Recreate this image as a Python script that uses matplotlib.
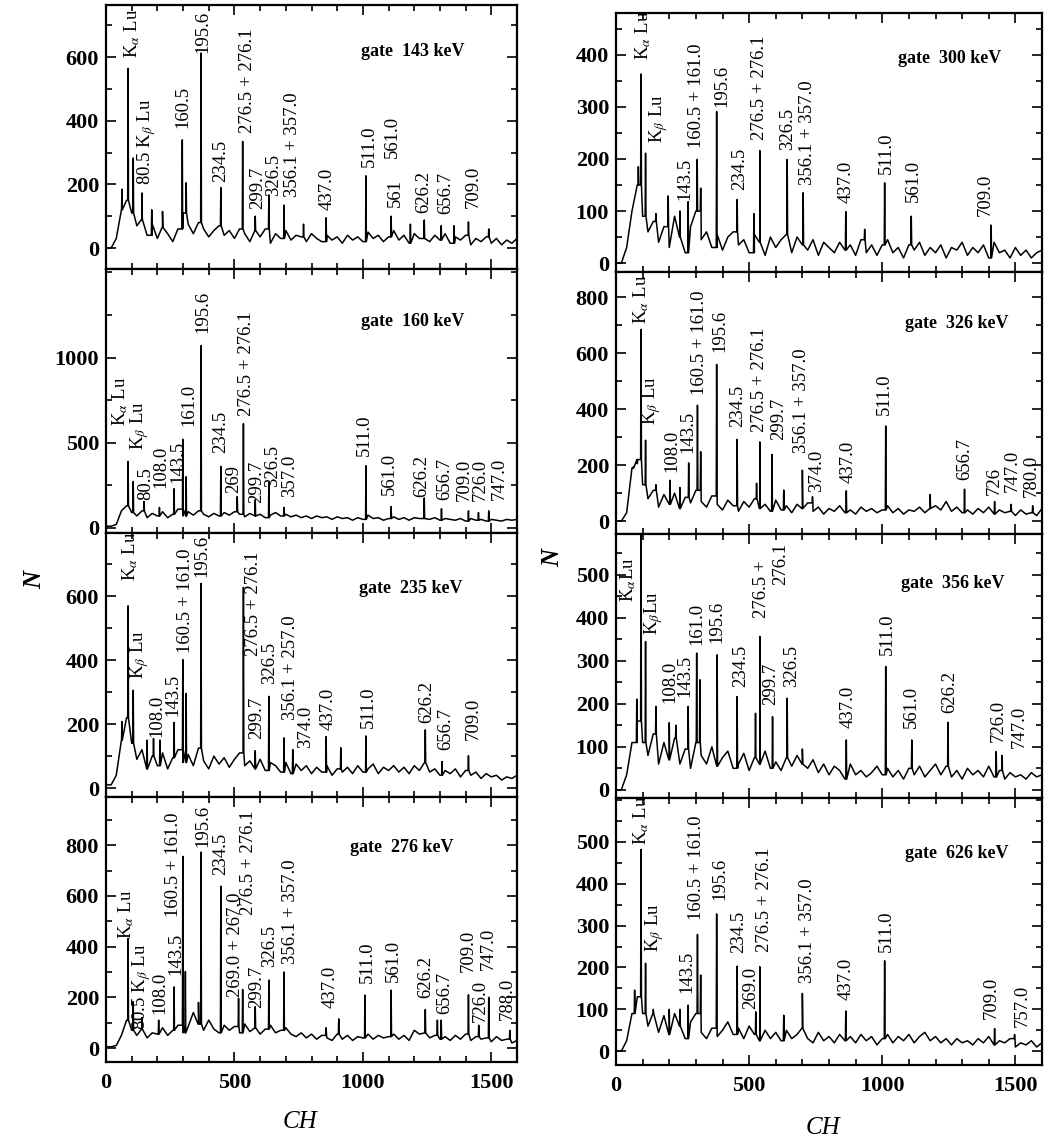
import numpy as np
import matplotlib
matplotlib.use("Agg")
import matplotlib.pyplot as plt
from matplotlib.ticker import FixedLocator, MultipleLocator

plt.rcParams["font.family"] = ["Liberation Serif", "DejaVu Serif"]
plt.rcParams["mathtext.fontset"] = "stix"

# background samples, one value every 20 channels (0 ... 1600)
BG_CH = np.arange(0, 1601, 20)

# ---------------- gate 143 keV ----------------
g143_bg = [0, 0, 30, 120, 150, 110, 70, 90, 40, 75,
           30, 65, 45, 20, 60, 110, 75, 45, 80, 60,
           35, 55, 70, 40, 55, 30, 60, 45, 20, 55,
           35, 60, 15, 45, 30, 55, 25, 40, 35, 20,
           45, 30, 20, 40, 25, 35, 15, 40, 25, 35,
           20, 50, 30, 40, 20, 35, 55, 25, 40, 15,
           45, 30, 55, 20, 40, 25, 45, 15, 35, 25,
           40, 10, 30, 20, 35, 15, 30, 10, 25, 15,
           30]
g143_peak_ch = [62, 86, 106, 140, 178, 220, 297, 312, 370, 447, 532, 581, 634, 693,
                769, 857, 1012, 1110, 1185, 1239, 1305, 1355, 1411, 1490]
g143_peak_h = [185, 565, 283, 173, 120, 115, 340, 205, 613, 190, 335, 100, 167, 135,
               75, 95, 227, 100, 75, 88, 70, 70, 82, 60]
g143_labels = [r"K$_\alpha$ Lu", r"80.5 K$_\beta$ Lu", "160.5", "195.6", "234.5",
               "276.5 + 276.1", "299.7", "326.5", "356.1 + 357.0", "437.0", "511.0",
               "561.0", "561", "626.2", "656.7", "709.0"]

# ---------------- gate 160 keV ----------------
g160_bg = [10, 10, 20, 100, 130, 90, 70, 100, 60, 85,
           70, 95, 60, 80, 110, 70, 95, 75, 100, 80,
           65, 85, 70, 90, 75, 95, 80, 65, 85, 70,
           80, 60, 75, 90, 70, 80, 65, 75, 60, 70,
           55, 70, 60, 65, 50, 65, 55, 60, 45, 60,
           50, 75, 55, 60, 45, 55, 65, 50, 60, 45,
           60, 55, 70, 50, 60, 45, 55, 50, 45, 55,
           40, 55, 45, 50, 40, 50, 45, 40, 50, 45,
           50]
g160_peak_ch = [86, 106, 148, 208, 265, 299, 312, 370, 447, 511, 535, 581, 634, 693,
                1012, 1110, 1239, 1306, 1411, 1450, 1490]
g160_peak_h = [390, 272, 155, 120, 230, 520, 300, 1070, 361, 184, 612, 165, 267, 120,
               365, 125, 176, 112, 100, 90, 100]
g160_labels = [r"K$_\alpha$ Lu", r"K$_\beta$ Lu", "80.5", "108.0", "143.5", "161.0",
               "195.6", "234.5", "269", "276.5 + 276.1", "299.7", "326.5", "357.0",
               "511.0", "561.0", "626.2", "656.7", "709.0", "726.0", "747.0"]

# ---------------- gate 235 keV ----------------
g235_bg = [10, 10, 40, 150, 220, 140, 90, 120, 60, 100,
           70, 110, 60, 95, 120, 80, 105, 70, 125, 85,
           60, 100, 75, 95, 65, 90, 110, 70, 85, 60,
           90, 55, 80, 70, 50, 80, 45, 75, 55, 70,
           45, 65, 50, 70, 40, 60, 50, 65, 45, 70,
           50, 60, 75, 45, 65, 55, 70, 50, 65, 45,
           70, 55, 80, 50, 60, 40, 55, 45, 60, 35,
           55, 40, 50, 30, 45, 35, 40, 25, 35, 30,
           40]
g235_peak_ch = [62, 86, 106, 160, 185, 210, 265, 299, 312, 370, 535, 581, 634, 693,
                727, 857, 914, 1012, 1243, 1308, 1411]
g235_peak_h = [208, 570, 306, 150, 155, 150, 205, 402, 296, 640, 628, 117, 287, 157,
               120, 161, 126, 163, 182, 83, 101]
g235_labels = [r"K$_\alpha$ Lu", r"K$_\beta$ Lu", "108.0", "143.5", "160.5 + 161.0",
               "195.6", "276.5 + 276.1", "299.7", "326.5", "356.1 + 257.0", "374.0",
               "437.0", "511.0", "626.2", "656.7", "709.0"]

# ---------------- gate 276 keV ----------------
g276_bg = [5, 5, 10, 50, 110, 70, 50, 75, 40, 60,
           55, 80, 50, 70, 90, 60, 85, 140, 95, 70,
           110, 75, 60, 90, 70, 85, 60, 95, 65, 80,
           55, 75, 90, 60, 70, 80, 55, 45, 60, 40,
           55, 35, 50, 40, 30, 55, 35, 50, 30, 45,
           40, 55, 35, 50, 40, 45, 55, 35, 50, 30,
           70, 55, 60, 40, 50, 35, 45, 30, 50, 35,
           55, 30, 45, 35, 40, 25, 45, 30, 35, 20,
           30]
g276_peak_ch = [86, 106, 140, 205, 265, 299, 309, 360, 370, 447, 516, 532, 581, 634,
                693, 857, 906, 1008, 1110, 1243, 1290, 1305, 1411, 1451, 1490, 1572]
g276_peak_h = [432, 183, 120, 110, 241, 756, 302, 180, 773, 638, 196, 231, 163, 268,
               300, 80, 115, 209, 228, 152, 110, 110, 210, 90, 200, 70]
g276_labels = [r"K$_\alpha$ Lu", r"80.5 K$_\beta$ Lu", "108.0", "143.5", "160.5 + 161.0",
               "195.6", "234.5", "269.0 + 267.0", "276.5 + 276.1", "299.7", "326.5",
               "356.1 + 357.0", "437.0", "511.0", "561.0", "626.2", "656.7", "709.0",
               "726.0", "747.0", "788.0"]

# ---------------- gate 300 keV ----------------
g300_bg = [0, 0, 30, 100, 150, 90, 60, 80, 40, 70,
           30, 90, 50, 20, 70, 100, 45, 60, 30, 55,
           25, 50, 60, 35, 45, 20, 55, 40, 15, 50,
           30, 45, 55, 20, 50, 35, 25, 45, 15, 40,
           30, 20, 40, 25, 35, 15, 45, 20, 35, 15,
           35, 45, 20, 30, 10, 35, 25, 40, 15, 30,
           20, 35, 10, 30, 25, 40, 15, 30, 20, 35,
           10, 40, 20, 25, 10, 30, 15, 25, 10, 20,
           25]
g300_peak_ch = [84, 94, 111, 150, 196, 240, 271, 305, 318, 378, 455, 518, 540, 643,
                703, 863, 934, 1009, 1109, 1409]
g300_peak_h = [185, 363, 211, 95, 129, 100, 118, 199, 144, 291, 122, 95, 216, 199,
               135, 99, 65, 154, 90, 73]
g300_labels = [r"K$_\alpha$ Lu", r"K$_\beta$ Lu", "143.5", "160.5 + 161.0", "195.6",
               "234.5", "276.5 + 276.1", "326.5", "356.1 + 357.0", "437.0", "511.0",
               "561.0", "709.0"]

# ---------------- gate 326 keV ----------------
g326_bg = [0, 0, 30, 190, 220, 130, 80, 110, 50, 95,
           60, 100, 45, 85, 65, 110, 70, 50, 90, 60,
           40, 75, 55, 35, 70, 50, 80, 45, 60, 35,
           75, 40, 55, 30, 60, 45, 65, 35, 50, 25,
           45, 35, 55, 30, 40, 25, 50, 35, 45, 30,
           40, 55, 30, 45, 25, 40, 35, 50, 30, 45,
           55, 40, 70, 35, 50, 30, 40, 25, 45, 30,
           50, 25, 40, 30, 35, 20, 40, 25, 30, 20,
           45]
g326_peak_ch = [65, 80, 94, 111, 150, 203, 240, 273, 306, 318, 378, 455, 528, 540,
                586, 630, 700, 738, 865, 1013, 1180, 1309, 1422, 1484, 1565]
g326_peak_h = [194, 205, 685, 289, 130, 146, 120, 208, 414, 248, 560, 292, 135, 283,
               238, 111, 182, 87, 108, 340, 95, 114, 70, 60, 55]
g326_labels = [r"K$_\alpha$ Lu", r"K$_\beta$ Lu", "108.0", "143.5", "160.5 + 161.0",
               "195.6", "234.5", "276.5 + 276.1", "299.7", "356.1 + 357.0", "374.0",
               "437.0", "511.0", "656.7", "726", "747.0", "780.0"]

# ---------------- gate 356 keV ----------------
g356_bg = [0, 0, 35, 110, 160, 110, 80, 130, 60, 110,
           70, 120, 60, 95, 50, 110, 80, 60, 100, 55,
           75, 90, 50, 60, 85, 45, 75, 60, 90, 50,
           65, 45, 75, 55, 80, 60, 50, 70, 40, 60,
           35, 55, 45, 25, 60, 35, 45, 30, 40, 55,
           35, 50, 30, 45, 25, 50, 35, 55, 30, 45,
           60, 35, 55, 30, 45, 25, 50, 35, 45, 30,
           55, 30, 45, 25, 40, 30, 35, 25, 40, 30,
           35]
g356_peak_ch = [78, 94, 111, 150, 200, 225, 271, 303, 315, 380, 455, 524, 540, 588,
                643, 700, 865, 1013, 1111, 1247, 1428, 1450]
g356_peak_h = [211, 700, 345, 194, 156, 150, 194, 318, 256, 314, 217, 178, 357, 170,
               213, 95, 116, 287, 116, 157, 89, 80]
g356_labels = [r"K$_\alpha$Lu", r"K$_\beta$Lu", "108.0", "143.5", "161.0", "195.6",
               "234.5", "276.5 +", "276.1", "299.7", "326.5", "437.0", "511.0",
               "561.0", "626.2", "726.0", "747.0"]

# ---------------- gate 626 keV ----------------
g626_bg = [0, 0, 25, 90, 130, 90, 60, 90, 45, 85,
           40, 90, 60, 30, 70, 90, 45, 30, 55, 35,
           50, 70, 40, 55, 30, 60, 40, 25, 50, 30,
           45, 25, 50, 30, 40, 55, 30, 20, 45, 25,
           35, 20, 40, 25, 35, 20, 40, 25, 35, 15,
           30, 40, 20, 35, 25, 40, 20, 35, 45, 25,
           35, 20, 30, 15, 30, 20, 25, 15, 30, 20,
           35, 15, 25, 20, 30, 10, 20, 15, 25, 10,
           20]
g626_peak_ch = [70, 94, 111, 140, 200, 240, 271, 306, 318, 378, 455, 525, 540, 630,
                700, 863, 1009, 1422, 1497]
g626_peak_h = [146, 482, 210, 100, 100, 100, 110, 279, 182, 328, 203, 94, 202, 86,
               138, 96, 216, 54, 40]
g626_labels = [r"K$_\alpha$ Lu", r"K$_\beta$ Lu", "143.5", "160.5 + 161.0", "195.6",
               "234.5", "269.0", "276.5 + 276.1", "356.1 + 357.0", "437.0", "511.0",
               "709.0", "757.0"]

GATES = ["gate  143 keV", "gate  160 keV", "gate  235 keV", "gate  276 keV",
         "gate  300 keV", "gate  326 keV", "gate  356 keV", "gate  626 keV"]

# ---- layout: where each rotated label sits (channel, bottom in counts) ----
g143_lab_x = [100, 159, 298, 376, 447, 552, 590, 652, 725, 862, 1025, 1113, 1126, 1237, 1321, 1429]
g143_lab_y = [597, 198, 377, 613, 208, 361, 122, 163, 160, 120, 255, 283, 130, 110, 107, 125]
g160_lab_x = [55, 132, 154, 214, 278, 321, 376, 447, 496, 548, 587, 650, 716, 1005, 1104,
              1230, 1317, 1393, 1458, 1529]
g160_lab_y = [596, 459, 165, 233, 263, 596, 1145, 439, 204, 655, 145, 243, 184, 420, 194,
              184, 165, 155, 155, 165]
g235_lab_x = [94, 132, 198, 262, 308, 373, 574, 587, 637, 717, 776, 866, 1022, 1249, 1321, 1429]
g235_lab_y = [649, 340, 161, 224, 424, 659, 413, 153, 324, 214, 125, 182, 188, 203, 120, 151]
g276_lab_x = [80, 139, 210, 273, 262, 376, 447, 503, 555, 587, 637, 717, 873, 1018, 1120,
              1243, 1317, 1412, 1458, 1490, 1561]
g276_lab_y = [432, 71, 136, 287, 517, 793, 681, 202, 524, 156, 320, 333, 156, 255, 261,
              196, 136, 300, 104, 307, 110]
g300_lab_x = [103, 159, 259, 303, 396, 463, 540, 643, 718, 865, 1015, 1118, 1388]
g300_lab_y = [390, 230, 121, 220, 300, 140, 237, 217, 150, 115, 172, 118, 90]
g326_lab_x = [96, 134, 209, 271, 315, 390, 455, 540, 609, 696, 753, 871, 1009, 1309,
              1422, 1490, 1559]
g326_lab_y = [706, 343, 176, 242, 450, 605, 337, 319, 289, 242, 105, 135, 379, 146, 93,
              105, 87]
g356_lab_x = [46, 140, 203, 259, 303, 380, 468, 546, 618, 580, 659, 871, 1021, 1109,
              1253, 1434, 1515]
g356_lab_y = [438, 360, 202, 217, 337, 341, 240, 399, 477, 198, 240, 143, 314, 143, 178,
              112, 97]
g626_lab_x = [96, 146, 265, 303, 390, 459, 505, 559, 718, 863, 1015, 1409, 1525]
g626_lab_y = [493, 238, 138, 313, 361, 234, 102, 238, 162, 122, 238, 78, 58]

panels = [
    (g143_bg, g143_peak_ch, g143_peak_h, g143_labels, g143_lab_x, g143_lab_y),
    (g160_bg, g160_peak_ch, g160_peak_h, g160_labels, g160_lab_x, g160_lab_y),
    (g235_bg, g235_peak_ch, g235_peak_h, g235_labels, g235_lab_x, g235_lab_y),
    (g276_bg, g276_peak_ch, g276_peak_h, g276_labels, g276_lab_x, g276_lab_y),
    (g300_bg, g300_peak_ch, g300_peak_h, g300_labels, g300_lab_x, g300_lab_y),
    (g326_bg, g326_peak_ch, g326_peak_h, g326_labels, g326_lab_x, g326_lab_y),
    (g356_bg, g356_peak_ch, g356_peak_h, g356_labels, g356_lab_x, g356_lab_y),
    (g626_bg, g626_peak_ch, g626_peak_h, g626_labels, g626_lab_x, g626_lab_y),
]

# axes geometry in pixels (left, right, top, bottom) and per-panel axis setup
W, H = 1057, 1142
col_x = [(106, 517), (616, 1042)]
col_rows = [[5, 269, 533, 797, 1062], [13, 272, 534, 798, 1065]]
ylims = [(-66, 764), (-30, 1520), (-28, 798), (-55, 990),
         (-17, 480), (-46, 890), (-19, 595), (-33, 605)]
yticks = [[0, 200, 400, 600], [0, 500, 1000], [0, 200, 400, 600], [0, 200, 400, 600, 800],
          [0, 100, 200, 300, 400], [0, 200, 400, 600, 800], [0, 100, 200, 300, 400, 500],
          [0, 100, 200, 300, 400, 500]]
yminor = [100, 250, 100, 100, 50, 100, 50, 50]
gate_pos = [(0.747, 0.822), (0.747, 0.80), (0.741, 0.79), (0.72, 0.81),
            (0.784, 0.825), (0.80, 0.804), (0.79, 0.813), (0.80, 0.793)]


def build_spectrum(bg, peak_ch, peak_h):
    xs = list(BG_CH)
    ys = list(bg)
    for c, h in zip(peak_ch, peak_h):
        foot = bg[c // 20]
        xs += [c - 1.5, c, c + 1.5]
        ys += [foot, h, foot]
    order = np.argsort(xs, kind="stable")
    return np.array(xs)[order], np.array(ys)[order]


fig = plt.figure(figsize=(W / 100, H / 100), dpi=100)

for i, (bg, pch, ph, labels, lab_x, lab_y) in enumerate(panels):
    col, row = divmod(i, 4)
    x0, x1 = col_x[col]
    top, bottom = col_rows[col][row], col_rows[col][row + 1]
    ax = fig.add_axes([x0 / W, 1 - bottom / H, (x1 - x0) / W, (bottom - top) / H])

    x, y = build_spectrum(bg, pch, ph)
    ax.plot(x, y, color="black", lw=1.1)

    for txt, lx, ly in zip(labels, lab_x, lab_y):
        ax.text(lx, ly, txt, rotation=90, ha="center", va="bottom", fontsize=13.5)

    gx, gy = gate_pos[i]
    ax.text(gx, gy, GATES[i], transform=ax.transAxes, ha="center", va="center",
            fontsize=13, fontweight="bold")

    ax.set_xlim(0, 1600)
    ax.set_ylim(*ylims[i])
    ax.xaxis.set_major_locator(FixedLocator([0, 500, 1000, 1500]))
    ax.xaxis.set_minor_locator(MultipleLocator(100))
    ax.yaxis.set_major_locator(FixedLocator(yticks[i]))
    ax.yaxis.set_minor_locator(MultipleLocator(yminor[i]))
    ax.tick_params(which="both", direction="in", top=True, right=True, width=1.2)
    ax.tick_params(which="major", length=7)
    ax.tick_params(which="minor", length=4)
    ax.tick_params(axis="y", pad=5, labelsize=16)
    ax.tick_params(axis="x", pad=8, labelsize=16)
    for lab in ax.get_xticklabels() + ax.get_yticklabels():
        lab.set_fontweight("bold")
    if row != 3:
        ax.tick_params(axis="x", labelbottom=False)
    for sp in ax.spines.values():
        sp.set_linewidth(1.6)

fig.text(0.033, 0.492, "N", rotation=90, fontsize=18, style="italic", fontweight="bold",
         ha="center", va="center")
fig.text(0.523, 0.511, "N", rotation=90, fontsize=18, style="italic", fontweight="bold",
         ha="center", va="center")
fig.text(0.284, 0.0175, "CH", fontsize=18, style="italic", ha="center", va="center")
fig.text(0.779, 0.012, "CH", fontsize=18, style="italic", ha="center", va="center")

fig.savefig("out.png", dpi=100)
